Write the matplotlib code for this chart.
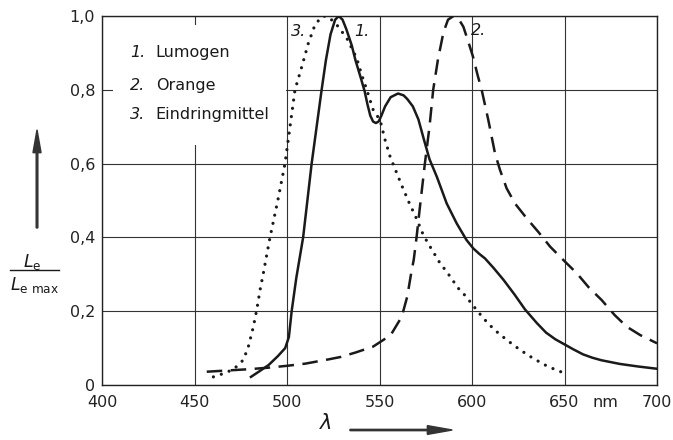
import matplotlib
matplotlib.use('Agg')
import matplotlib.pyplot as plt
from matplotlib.patches import Rectangle, FancyArrow
from matplotlib.lines import Line2D

# ---- data ----
# 1. Lumogen (solid)
lumogen_x = [480.5, 485, 490, 495, 499, 501, 502.5, 505, 508.7, 513.3, 518.7, 521, 523.5, 526, 528,
             530, 532, 535, 537, 540, 542, 543.5, 545, 546.5, 548, 549.5, 551, 553, 556, 560, 563,
             565, 568, 571, 574, 577, 581, 586.3, 591.7, 597, 600.7, 604, 607, 611.5, 617, 623,
             628.6, 635, 640, 645, 650, 655, 660, 665, 670, 680, 690, 700]
lumogen_y = [0.022, 0.037, 0.054, 0.078, 0.10, 0.13, 0.20, 0.29, 0.40, 0.60, 0.80, 0.88, 0.95, 0.99, 1.0,
             0.99, 0.965, 0.92, 0.88, 0.83, 0.795, 0.76, 0.73, 0.714, 0.71, 0.714, 0.73, 0.755, 0.78,
             0.79, 0.785, 0.775, 0.755, 0.72, 0.665, 0.612, 0.564, 0.492, 0.438, 0.393, 0.37, 0.355,
             0.343, 0.318, 0.285, 0.245, 0.205, 0.168, 0.142, 0.124, 0.11, 0.096, 0.083, 0.074,
             0.067, 0.057, 0.05, 0.044]

# 2. Orange (dashed)
orange_x = [456.6, 470, 480, 490, 500, 510, 523, 529, 537, 546.5, 556, 562, 565, 567, 568.5, 570,
            572, 574.5, 577, 579, 581.5, 584.5, 587, 590, 593, 595.3, 598, 600.5, 603, 605.2, 608.8,
            612.4, 615.1, 618.7, 623.2, 629.5, 635.8, 642.2, 650.3, 656.6, 663, 670.1, 677, 683.6,
            691, 700]
orange_y = [0.036, 0.040, 0.043, 0.047, 0.052, 0.058, 0.070, 0.076, 0.088, 0.104, 0.135, 0.185, 0.24,
            0.30, 0.34, 0.40, 0.49, 0.60, 0.70, 0.80, 0.88, 0.955, 0.99, 1.0, 0.99, 0.971, 0.93, 0.89,
            0.84, 0.80, 0.718, 0.628, 0.583, 0.533, 0.492, 0.452, 0.415, 0.375, 0.334, 0.303, 0.265,
            0.23, 0.19, 0.158, 0.135, 0.113]

# 3. Eindringmittel (dotted)
eind_x = [460.2, 465, 471, 476.4, 479.1, 481.8, 483.6, 485.4, 487.2, 489, 490.8, 495, 498.9, 501.6,
          504.3, 508, 511.5, 515.1, 518.7, 521, 524, 526.9, 532.3, 537.7, 540.4, 543.1, 546.6, 550.3,
          553, 555.7, 561.9, 566.5, 569.2, 573.7, 577.3, 582.7, 586.3, 592.6, 597.1, 599.8, 606.1,
          612, 618.8, 626, 633.1, 641, 649.4]
eind_y = [0.022, 0.03, 0.042, 0.068, 0.104, 0.158, 0.203, 0.257, 0.303, 0.352, 0.40, 0.50, 0.60, 0.70,
          0.80, 0.863, 0.926, 0.976, 0.998, 1.0, 0.99, 0.976, 0.94, 0.885, 0.84, 0.80, 0.745, 0.718,
          0.664, 0.619, 0.542, 0.488, 0.46, 0.406, 0.375, 0.33, 0.307, 0.262, 0.238, 0.22, 0.181,
          0.15, 0.122, 0.095, 0.072, 0.05, 0.033]

x_ticks = [400, 450, 500, 550, 600, 650, 700]
x_tick_labels = ['400', '450', '500', '550', '600', '650', '700']
y_ticks = [0, 0.2, 0.4, 0.6, 0.8, 1.0]
y_tick_labels = ['0', '0,2', '0,4', '0,6', '0,8', '1,0']
legend_nums = ['1.', '2.', '3.']
legend_names = ['Lumogen', 'Orange', 'Eindringmittel']

plt.rcParams['font.family'] = ['DejaVu Sans']
ink = '#1a1a1a'

fig = plt.figure(figsize=(6.73, 4.40), dpi=100)
ax = fig.add_axes([0.1516, 0.125, 0.8247, 0.8386])

ax.plot(lumogen_x, lumogen_y, color=ink, lw=1.8, zorder=3)
ax.plot(orange_x, orange_y, color=ink, lw=1.8, dashes=(6.2, 3.4), zorder=3)
ax.plot(eind_x, eind_y, color=ink, lw=2.3, dashes=(0.01, 2.6), dash_capstyle='round', zorder=3)

ax.set_xlim(400, 700)
ax.set_ylim(0, 1)
ax.set_xticks(x_ticks)
ax.set_xticklabels(x_tick_labels)
ax.set_yticks(y_ticks)
ax.set_yticklabels(y_tick_labels)
ax.tick_params(axis='both', length=0, labelsize=11.5, colors='#222')
ax.tick_params(axis='x', pad=7)
ax.tick_params(axis='y', pad=5)
ax.grid(True, color='#333333', lw=0.8)
ax.set_axisbelow(True)
for s in ax.spines.values():
    s.set_color('#222')
    s.set_linewidth(1.0)

# white area behind legend text
ax.add_patch(Rectangle((406, 0.65), 93.5, 0.326, facecolor='white', edgecolor='none', zorder=1.5))

leg_y = [0.90, 0.813, 0.732]
for num, name, yy in zip(legend_nums, legend_names, leg_y):
    ax.text(415, yy, num, style='italic', fontsize=11.5, color=ink, va='center', ha='left', zorder=4)
    ax.text(429, yy, name, fontsize=11.5, color=ink, va='center', ha='left', zorder=4)

# curve labels
ax.text(506, 0.957, '3.', style='italic', fontsize=11.5, color=ink, va='center', ha='center', zorder=4)
ax.text(540.5, 0.957, '1.', style='italic', fontsize=11.5, color=ink, va='center', ha='center', zorder=4)
ax.text(603.5, 0.962, '2.', style='italic', fontsize=11.5, color=ink, va='center', ha='center', zorder=4)

# unit
ax.text(672, -0.06, 'nm', fontsize=11.5, color='#222', va='baseline', ha='center', clip_on=False)

# x-axis label and arrow
fig.text(0.483, 0.039, r'$\lambda$', fontsize=15, color=ink, ha='center', va='center')
fig.patches.append(FancyArrow(0.52, 0.0227, 0.152, 0, width=0.003,
                              head_width=0.02, head_length=0.037,
                              length_includes_head=True, color='#333',
                              transform=fig.transFigure, figure=fig))

# y-axis label and arrow
fig.patches.append(FancyArrow(0.055, 0.482, 0, 0.223, width=0.0025,
                              head_width=0.012, head_length=0.052,
                              length_includes_head=True, color='#333',
                              transform=fig.transFigure, figure=fig))
fig.text(0.0475, 0.405, r'$L_{\mathrm{e}}$', fontsize=12.5, color=ink, ha='center', va='center')
fig.add_artist(Line2D([0.015, 0.088], [0.386, 0.386], color=ink, lw=1.0,
                      transform=fig.transFigure))
fig.text(0.052, 0.352, r'$L_{\mathrm{e\ max}}$', fontsize=12.5, color=ink, ha='center', va='center')

fig.savefig('out.png', dpi=100)
